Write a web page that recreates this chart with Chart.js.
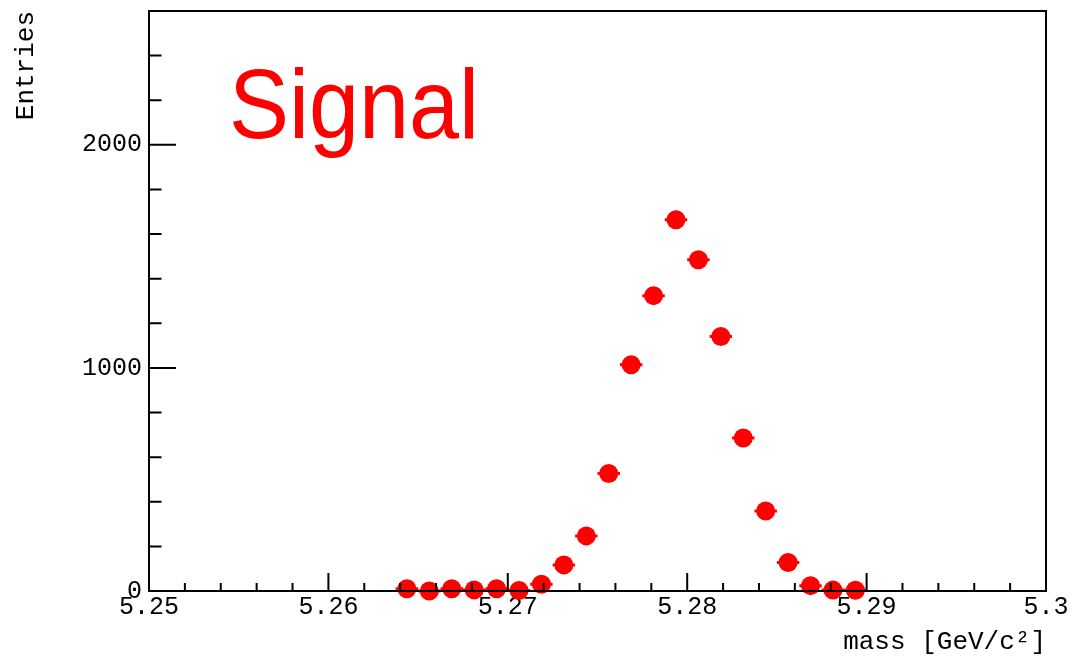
<!DOCTYPE html>
<html>
<head>
<meta charset="utf-8">
<script src="https://cdn.jsdelivr.net/npm/chart.js@4/dist/chart.umd.min.js"></script>
<style>
  html, body { margin: 0; padding: 0; background: #fff; }
  #wrap { width: 1072px; height: 662px; }
</style>
</head>
<body>
<div id="wrap"><canvas id="chart"></canvas></div>
<script>
// bin centres of the filled bins, GeV/c^2 (bin width 1.25 MeV)
const massBins = [
  5.264375, 5.265625, 5.266875, 5.268125, 5.269375, 5.270625, 5.271875,
  5.273125, 5.274375, 5.275625, 5.276875, 5.278125, 5.279375, 5.280625,
  5.281875, 5.283125, 5.284375, 5.285625, 5.286875, 5.288125, 5.289375,
];
const entries = [
  10, 0, 10, 5, 10, 2, 30,
  117, 247, 527, 1014, 1324, 1664, 1485,
  1141, 686, 359, 128, 24, 4, 3,
];
const binWidth = 0.00125;

const xTickValues = [5.25, 5.26, 5.27, 5.28, 5.29, 5.3];
const xTickLabels = ["5.25", "5.26", "5.27", "5.28", "5.29", "5.3"];
const yTickValues = [0, 1000, 2000];
const yTickLabels = ["0", "1000", "2000"];

const red = "#ff0000";
const mono = "'Liberation Mono', 'DejaVu Sans Mono', monospace";

// ROOT style frame: box, inward ticks on left and bottom, error bars, label
const rootFrame = {
  id: "rootFrame",
  beforeDatasetsDraw(chart) {
    const { ctx, scales: { x, y } } = chart;
    ctx.save();
    ctx.strokeStyle = red;
    ctx.lineWidth = 3;
    massBins.forEach((m, i) => {
      const n = entries[i];
      const err = Math.sqrt(n);
      const px = x.getPixelForValue(m);
      const py = y.getPixelForValue(n);
      ctx.beginPath();
      ctx.moveTo(x.getPixelForValue(m - binWidth / 2), py);
      ctx.lineTo(x.getPixelForValue(m + binWidth / 2), py);
      ctx.moveTo(px, y.getPixelForValue(n - err));
      ctx.lineTo(px, y.getPixelForValue(n + err));
      ctx.stroke();
    });
    ctx.restore();
  },
  afterDraw(chart) {
    const { ctx, chartArea: a, scales: { x, y } } = chart;
    ctx.save();
    ctx.strokeStyle = "#000";
    ctx.lineWidth = 2;
    ctx.strokeRect(a.left, a.top, a.right - a.left, a.bottom - a.top);

    ctx.beginPath();
    // x ticks: major every 0.01, minor every 0.002
    for (let k = 0; k <= 25; k++) {
      const px = x.getPixelForValue(5.25 + k * 0.002);
      const len = k % 5 === 0 ? 18 : 8;
      ctx.moveTo(px, a.bottom);
      ctx.lineTo(px, a.bottom - len);
    }
    // y ticks: major every 1000, minor every 200
    for (let k = 0; k <= 13; k++) {
      const py = y.getPixelForValue(k * 200);
      const len = k % 5 === 0 ? 27 : 12.5;
      ctx.moveTo(a.left, py);
      ctx.lineTo(a.left + len, py);
    }
    ctx.stroke();

    // big "Signal" label
    ctx.fillStyle = red;
    ctx.font = "98px 'Liberation Sans', Arial, sans-serif";
    ctx.textBaseline = "alphabetic";
    const w = ctx.measureText("Signal").width;
    ctx.translate(229, 138);
    ctx.scale(250 / w, 1);
    ctx.fillText("Signal", 0, 0);
    ctx.restore();
  },
};

new Chart(document.getElementById("chart"), {
  type: "scatter",
  plugins: [rootFrame],
  data: {
    datasets: [
      {
        label: "Signal",
        data: massBins.map((m, i) => ({ x: m, y: entries[i] })),
        backgroundColor: red,
        borderWidth: 0,
        pointRadius: 9.5,
        pointHoverRadius: 9.5,
        clip: false,
      },
    ],
  },
  options: {
    animation: false,
    responsive: true,
    maintainAspectRatio: false,
    layout: { padding: { top: 11, right: 26, left: 0, bottom: 0 } },
    plugins: {
      legend: { display: false },
      tooltip: { enabled: false },
    },
    scales: {
      x: {
        type: "linear",
        min: 5.25,
        max: 5.3,
        afterFit: (scale) => {
          scale.height = 71;
          scale.paddingLeft = 0;
          scale.paddingRight = 0;
        },
        afterBuildTicks: (scale) => {
          scale.ticks = xTickValues.map((v) => ({ value: v }));
        },
        grid: { display: false, drawTicks: false },
        border: { display: false },
        ticks: {
          autoSkip: false,
          maxRotation: 0,
          padding: 1,
          color: "#000",
          font: { family: mono, size: 25 },
          callback: (v, i) => xTickLabels[i],
        },
        title: {
          display: true,
          text: "mass [GeV/c²]",
          align: "end",
          color: "#000",
          font: { family: mono, size: 26 },
          padding: { top: 0, bottom: 4 },
        },
      },
      y: {
        min: 0,
        max: 2600,
        afterFit: (scale) => {
          scale.width = 149;
          scale.paddingTop = 0;
          scale.paddingBottom = 0;
        },
        afterBuildTicks: (scale) => {
          scale.ticks = yTickValues.map((v) => ({ value: v }));
        },
        grid: { display: false, drawTicks: false },
        border: { display: false },
        ticks: {
          padding: 7,
          color: "#000",
          font: { family: mono, size: 25 },
          callback: (v, i) => yTickLabels[i],
        },
        title: {
          display: true,
          text: "Entries",
          align: "end",
          color: "#000",
          font: { family: mono, size: 26 },
          padding: { top: 11, bottom: 0 },
        },
      },
    },
  },
});
</script>
</body>
</html>
